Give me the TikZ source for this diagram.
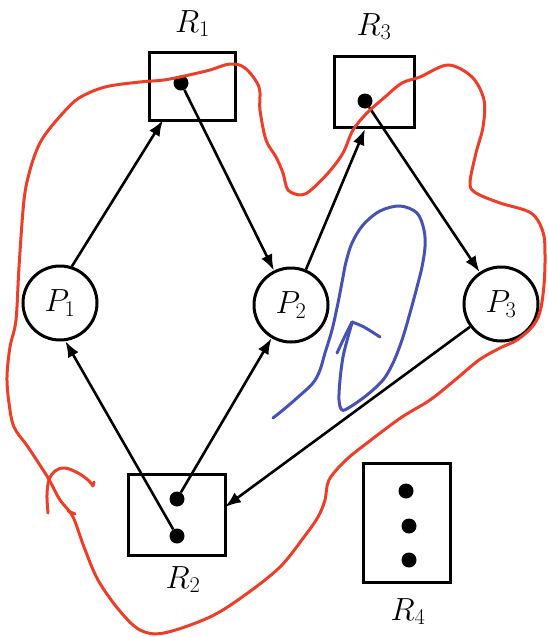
\RequirePackage{fix-cm}
\documentclass[tikz,border=0pt]{standalone}
\usetikzlibrary{arrows.meta}
\definecolor{penred}{RGB}{236,62,40}
\definecolor{penblue}{RGB}{70,82,182}
\tikzset{
  lbl/.style={font=\fontsize{32}{38}\selectfont, inner sep=0pt},
  pnode/.style={circle, draw, line width=3pt, minimum size=74pt, inner sep=0pt,
                font=\fontsize{32}{38}\selectfont},
  rbox/.style={draw, line width=3.5pt, inner sep=0pt},
  tok/.style={circle, fill, minimum size=15pt, inner sep=0pt},
  arr/.style={line width=2.6pt, -{Latex[length=16pt,width=12pt]}},
  redpen/.style={penred, line width=3pt, line cap=round, line join=round},
  bluepen/.style={penblue, line width=3pt, line cap=round, line join=round},
}
\begin{document}
\begin{tikzpicture}[x=1pt, y=-1pt]
\useasboundingbox (0,0) rectangle (547,637);

% processes
\node[pnode] (P1) at (60,303) {$P_1$};
\node[pnode] (P2) at (291,305) {$P_2$};
\node[pnode] (P3) at (501,304) {$P_3$};

% resources
\node[rbox, minimum width=86pt, minimum height=68pt] (R1) at (192.5,86.5) {};
\node[rbox, minimum width=80pt, minimum height=71pt] (R3) at (374.5,92) {};
\node[rbox, minimum width=97pt, minimum height=81pt] (R2) at (177,515) {};
\node[rbox, minimum width=87pt, minimum height=119pt] (R4) at (407,523) {};

\node[lbl, anchor=base] (L1) at (192.5,32) {$R_1$};
\node[lbl, anchor=base] (L3) at (374,35) {$R_3$};
\node[lbl, anchor=base] (L2) at (183,588) {$R_2$};
\node[lbl, anchor=base] (L4) at (408,620) {$R_4$};

% resource instances
\node[tok] (d1) at (181,83) {};
\node[tok] (d3) at (365,101) {};
\node[tok] (d2a) at (177,499) {};
\node[tok] (d2b) at (177,536) {};
\node[tok] (d4a) at (406,491) {};
\node[tok] (d4b) at (409,526) {};
\node[tok] (d4c) at (409,560) {};

% edge end points on box sides
\coordinate (r1in) at (163,120);
\coordinate (r3in) at (365,129);
\coordinate (r2in) at (225,507);

% request and assignment edges
\draw[arr] (P1.72) -- (r1in);
\draw[arr] (d1) -- (P2);
\draw[arr] (P2) -- (r3in);
\draw[arr] (d3) -- (P3);
\draw[arr] (P3) -- (r2in);
\draw[arr] (d2b) -- (P1.-82);
\draw[arr] (d2a) -- (P2);

% red hand-drawn loop
\draw[redpen] plot[smooth, tension=0.55] coordinates {
  (47,476) (28,447) (14,427) (9,403) (7,377) (10,347) (16,320) (19,267)
  (24,200) (30,170) (38,147) (47,132) (63,113) (79,98) (105,87) (140,82)
  (164,80) (189,75) (210,70) (230,64) (245,68) (259,87) (260,110) (266,140)
  (276,157) (283,173) (288,190) (301,195) (311,190) (329,172) (343,153)
  (353,130) (367,113) (385,97) (402,83) (420,77) (448,65) (472,77) (484,100)
  (483,127) (476,153) (470,183) (476,193) (500,203) (531,213) (543,232)
  (545,255) (544,285) (540,312) (532,327) (517,340) (500,348) (479,360)
  (455,380) (430,400) (402,417) (371,440) (346,460) (329,480) (325,500)
  (318,517) (304,537) (280,567) (245,595) (210,617) (164,633) (140,630)
  (119,610) (98,580) (84,547) (73,517) (60,500) (52,485) (47,476)};
\draw[redpen] plot[smooth, tension=0.6] coordinates {
  (48,513) (47,495) (49,480) (55,471) (65,468) (78,473) (88,480) (93,486)};
\draw[redpen] (93,486) -- (94,482);
\draw[redpen] (68,511) -- (75,514);

% blue hand-drawn loop with arrow
\draw[bluepen] plot[smooth, tension=0.55] coordinates {
  (273,418) (283,410) (297,398) (313,383) (320,370) (325,353) (332,330)
  (338,303) (343,277) (346,262) (352,243) (363,225) (380,211) (400,206)
  (417,213) (424,230) (425,247) (422,267) (417,287) (410,313) (402,340)
  (393,363) (383,380) (367,395) (350,407) (342,410) (339,400) (340,380)
  (343,357) (348,337) (352,323)};
\draw[bluepen] plot[smooth, tension=0.5] coordinates {(337,353) (345,336) (352,322)};
\draw[bluepen] plot[smooth, tension=0.5] coordinates {(352,322) (364,327) (380,337)};
\end{tikzpicture}
\end{document}
